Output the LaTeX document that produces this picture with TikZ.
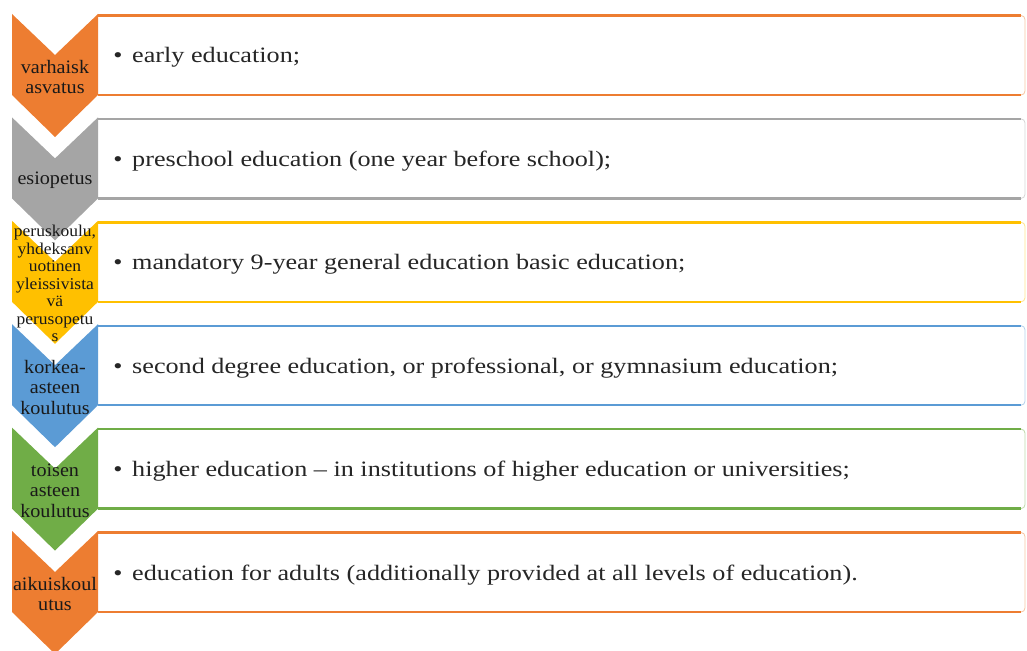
\documentclass[tikz,border=0pt]{standalone}
\usepackage{fontspec}
\setmainfont{Liberation Serif}
\newfontfamily\itemfont{Liberation Serif}[FakeStretch=1.19]
\newfontfamily\labfont{Liberation Serif}[FakeStretch=1.06]
\usetikzlibrary{positioning, calc}

\definecolor{lvlorange}{HTML}{ED7D31}
\definecolor{lvlgray}{HTML}{A5A5A5}
\definecolor{lvlyellow}{HTML}{FFC000}
\definecolor{lvlblue}{HTML}{5B9BD5}
\definecolor{lvlgreen}{HTML}{70AD47}

\tikzset{
	labbig/.style={font=\labfont\fontsize{19}{20.5}\selectfont},
	labsmall/.style={font=\labfont\fontsize{16.5}{17.5}\selectfont},
	lab/.style={text=black!90, align=center, inner sep=0pt, text width=92pt},
	item/.style={font=\itemfont\fontsize{22}{24}\selectfont, text=black!85, inner sep=0pt}
}

\begin{document}
\begin{tikzpicture}[x=1pt, y=-1pt]
		\useasboundingbox (0,0) rectangle (1027,650);
		\foreach \col/\lf/\lab/\txt [count=\i] in {
				lvlorange/labbig/{varhaisk\\asvatus}/{early education;},
				lvlgray/labbig/{esiopetus}/{preschool education (one year before school);},
				lvlyellow/labsmall/{peruskoulu,\\yhdeksanv\\uotinen\\yleissivista\\vä\\perusopetu\\s}/{mandatory 9-year general education basic education;},
				lvlblue/labbig/{korkea-\\asteen\\koulutus}/{second degree education, or professional, or gymnasium education;},
				lvlgreen/labbig/{toisen\\asteen\\koulutus}/{higher education – in institutions of higher education or universities;},
				lvlorange/labbig/{aikuiskoul\\utus}/{education for adults (additionally provided at all levels of education).}}
			{
				\pgfmathsetmacro\t{14+(\i-1)*103.4}
				% box on the right
				\fill[white] (98,\t+1.5) rectangle (1025,\t+81);
				\draw[\col!45, line width=0.8pt] (1021,\t+1.5) to[out=0, in=90] (1025,\t+5.5) -- (1025,\t+77) to[out=-90, in=0] (1021,\t+81);
				\draw[\col, line width=2.4pt] (98,\t+1.5) -- (1021,\t+1.5);
				\draw[\col, line width=2.4pt] (98,\t+81) -- (1021,\t+81);
				% chevron
				\fill[\col] (12,\t) -- (55,\t+41) -- (98,\t) -- (98,\t+81) -- (55,\t+123) -- (12,\t+81) -- cycle;
				\node[lab, \lf] (lab\i) at (55,\t+63) {\lab};
				\node[item, anchor=base] (dot\i) at (118,\t+49) {\textbullet};
				\node[item, anchor=base west] (txt\i) at (132,\t+49) {\txt};
			}
	\end{tikzpicture}
\end{document}
